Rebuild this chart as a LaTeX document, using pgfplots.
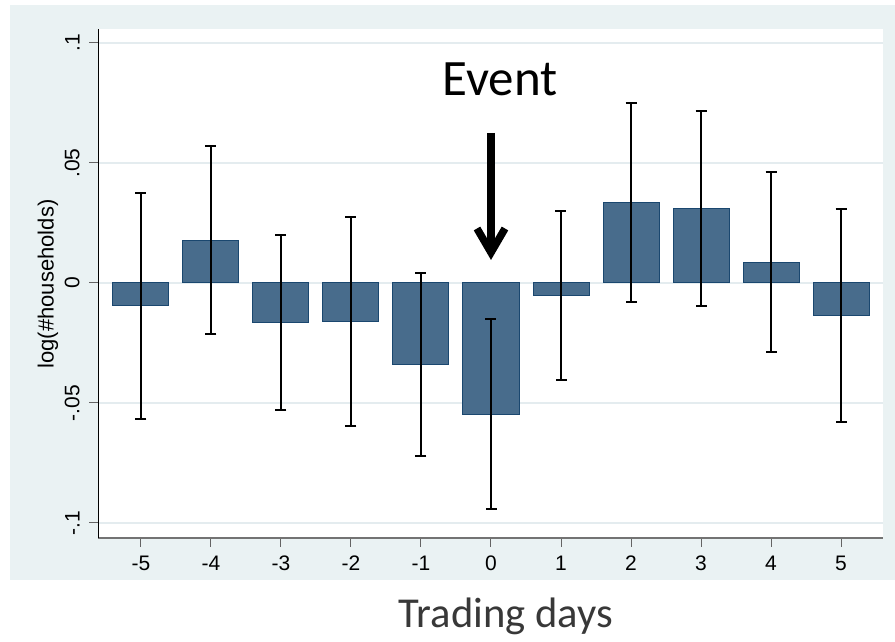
\documentclass[border=0pt]{standalone}
\usepackage{pgfplots}
\pgfplotsset{compat=1.18}
\usepackage{fontspec}
\setmainfont{Liberation Sans}
\newfontfamily\calibri{Carlito}
\usetikzlibrary{arrows.meta}

\definecolor{panel}{RGB}{234,242,243}
\definecolor{gridc}{RGB}{228,236,239}
\definecolor{barfill}{RGB}{72,108,140}
\definecolor{baredge}{RGB}{26,71,111}
\definecolor{tickc}{RGB}{100,100,100}

\begin{document}
\begin{tikzpicture}
% overall canvas and the shaded graph region
\path (-49.25pt,-51pt) rectangle (398.25pt,269pt);
\fill[panel] (-44.25pt,-21pt) rectangle (398.25pt,266.5pt);
\begin{axis}[
  at={(0pt,0pt)}, anchor=south west, scale only axis,
  width=392.25pt, height=254.5pt,
  xmin=-5.607, xmax=5.6, ymin=-0.10625, ymax=0.10583,
  axis x line*=bottom, axis y line*=left,
  y axis line style={black, line width=0.6pt},
  x axis line style={black!55, line width=0.9pt},
  axis background/.style={fill=white},
  xtick={-5,-4,-3,-2,-1,0,1,2,3,4,5},
  xticklabels={-5,-4,-3,-2,-1,0,1,2,3,4,5},
  ytick={-0.1,-0.05,0,0.05,0.1},
  yticklabels={-.1,-.05,0,.05,.1},
  tick align=outside, major tick length=4.5pt,
  tick style={tickc, line width=0.5pt},
  ticklabel style={font=\fontsize{10.5}{12}\selectfont},
  yticklabel style={rotate=90, anchor=south},
  yticklabel shift=1.4pt,
  xticklabel style={anchor=north},
  xticklabel shift=1pt,
  ymajorgrids, grid style={gridc, line width=1pt},
  xlabel={Trading days},
  xlabel style={at={(axis description cs:0.5194,-0.1768)}, anchor=base,
    font=\calibri\fontsize{21.3}{25}\selectfont, text=black!78},
  ylabel={log(\#households)},
  ylabel style={at={(axis description cs:-0.0644,0.499)}, anchor=center,
    font=\fontsize{11}{13}\selectfont},
  clip=false,
]
\addplot[ybar, bar width=0.8, fill=barfill, draw=baredge, line width=0.5pt,
  error bars/.cd, y dir=both, y explicit,
  error bar style={black, line width=1pt},
  error mark options={rotate=90, black, line width=1pt, mark size=2.75pt}]
coordinates {
  (-5,-0.0095) +- (0,0.0470)
  (-4, 0.0179) +- (0,0.0393)
  (-3,-0.0165) +- (0,0.0365)
  (-2,-0.0160) +- (0,0.0436)
  (-1,-0.0340) +- (0,0.0382)
  (0,-0.0546)  +- (0,0.0396)
  (1,-0.0052)  +- (0,0.0351)
  (2, 0.0335)  +- (0,0.0414)
  (3, 0.0310)  +- (0,0.0407)
  (4, 0.0087)  +- (0,0.0375)
  (5,-0.0137)  +- (0,0.0444)
};
% event marker
\draw[line width=3.75pt, -{Straight Barb[length=12pt,width=14pt]}]
  (axis cs:0,0.0625) -- (axis cs:0,0.0096);
\node[font=\calibri\fontsize{25.5}{30}\selectfont, anchor=base]
  at (axis cs:0.13,0.0783) {Event};
\end{axis}
\end{tikzpicture}
\end{document}
